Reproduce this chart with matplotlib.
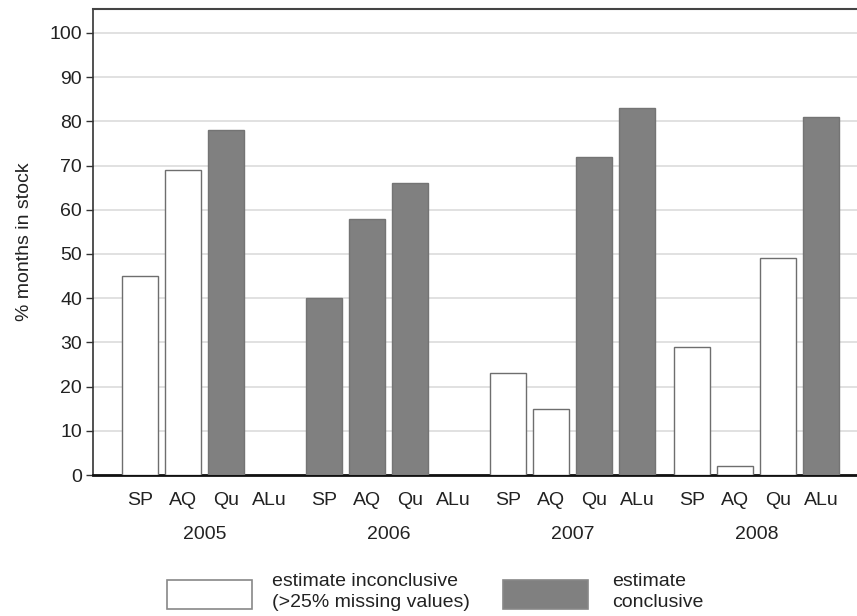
import numpy as np
import matplotlib
matplotlib.use("Agg")
import matplotlib.pyplot as plt
from matplotlib.patches import Rectangle

plt.rcParams['font.family'] = ['Liberation Sans', 'DejaVu Sans']

years = ["2005", "2006", "2007", "2008"]
stores = ["SP", "AQ", "Qu", "ALu"]
values = {
    "2005": [45, 69, 78, np.nan],
    "2006": [40, 58, 66, np.nan],
    "2007": [23, 15, 72, 83],
    "2008": [29, 2, 49, 81],
}
conclusive = {
    "2005": [False, False, True, False],
    "2006": [True, True, True, False],
    "2007": [False, False, True, True],
    "2008": [False, False, False, True],
}
yticks = list(range(0, 101, 10))
legend_labels = ["estimate inconclusive\n(>25% missing values)", "estimate\nconclusive"]

GRAY = "#808080"
EDGE_W = "#6e6e6e"
TXT = "#222222"
FS = 14
group_step = 4.28
bar_w = 0.83

fig = plt.figure(figsize=(8.57, 6.16), dpi=100)
ax = fig.add_axes([93/857, (616-475)/616, 1 - 93/857, (475-9)/616])

xt, xl = [], []
for g, yr in enumerate(years):
    for i, st in enumerate(stores):
        x = g * group_step + i
        xt.append(x); xl.append(st)
        v = values[yr][i]
        if not np.isnan(v):
            if conclusive[yr][i]:
                ax.bar(x, v, width=bar_w, color=GRAY, edgecolor="#747474", linewidth=1, zorder=3)
            else:
                ax.bar(x, v, width=bar_w, color="white", edgecolor=EDGE_W, linewidth=1, zorder=3)
    ax.annotate(yr, xy=(g * group_step + 1.5, 0), xycoords=('data', 'axes fraction'),
                xytext=(0, -43), textcoords='offset points', ha='center', va='center',
                fontsize=FS, color=TXT)

ax.set_xticks(xt)
ax.set_xticklabels(xl, fontsize=FS, color=TXT)
ax.tick_params(axis='x', length=0, pad=12)
ax.set_xlim(-1.09, 3 * group_step + 3 + 0.84)
ax.set_ylim(0, 105.4)
ax.set_yticks(yticks)
ax.set_yticklabels([str(t) for t in yticks], fontsize=FS, color=TXT)
ax.tick_params(axis='y', length=5, width=1, color="#333333", pad=3)
ax.yaxis.grid(True, color="#dcdcdc", linewidth=1.2, zorder=0)
ax.set_axisbelow(True)
ax.set_ylabel("% months in stock", fontsize=FS, color=TXT, labelpad=12)

ax.spines["right"].set_visible(False)
ax.spines["top"].set_color("#444444")
ax.spines["top"].set_linewidth(1.5)
ax.spines["left"].set_color("#333333")
ax.spines["left"].set_linewidth(1.2)
ax.spines["bottom"].set_color("#111111")
ax.spines["bottom"].set_linewidth(2)

# legend
fig.add_artist(Rectangle((167/857, 1 - 609/616), 85/857, 29/616, transform=fig.transFigure,
                         facecolor="white", edgecolor="#888888", linewidth=1.2))
fig.text(272/857, 1 - 592/616, legend_labels[0], fontsize=FS, va='center', ha='left',
         color=TXT, linespacing=1.3)
fig.add_artist(Rectangle((503/857, 1 - 609/616), 85/857, 29/616, transform=fig.transFigure,
                         facecolor=GRAY, edgecolor="#888888", linewidth=1.2))
fig.text(612/857, 1 - 592/616, legend_labels[1], fontsize=FS, va='center', ha='left',
         color=TXT, linespacing=1.3)

fig.savefig("out.png", dpi=100)
